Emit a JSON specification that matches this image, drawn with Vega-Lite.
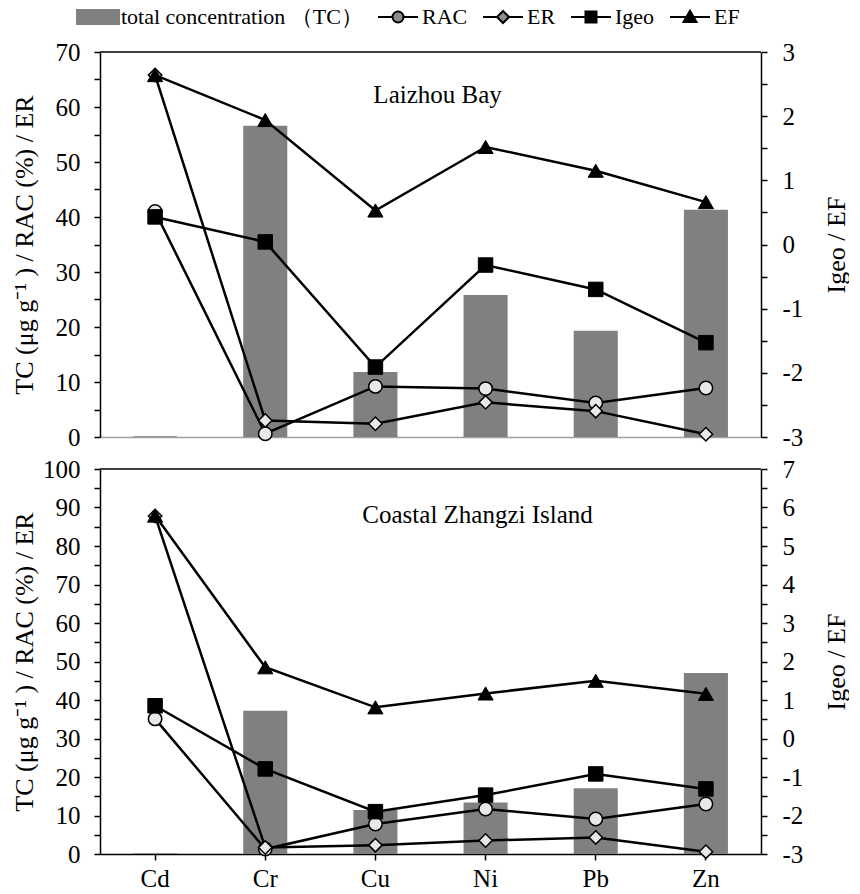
{
  "$schema": "https://vega.github.io/schema/vega-lite/v6.json",
  "padding": {"left": 11, "top": 6, "right": 0, "bottom": 0},
  "background": "white",
  "config": {
    "font": "Liberation Serif",
    "view": {"stroke": null},
    "axis": {"labelFont": "Liberation Serif", "labelFontSize": 25, "labelColor": "black", "titleFont": "Liberation Serif", "titleFontSize": 26, "titleFontWeight": "normal", "titleColor": "black", "domainColor": "black", "domainWidth": 1.5, "tickColor": "black", "tickWidth": 1.5, "grid": false, "labelOverlap": false, "labelBound": false, "labelFlush": false},
    "text": {"font": "Liberation Serif"}
  },
  "datasets": {
    "top": [
      {"m": "Cd", "s": "TC", "v": 0.15}, {"m": "Cr", "s": "TC", "v": 56.6}, {"m": "Cu", "s": "TC", "v": 11.8}, {"m": "Ni", "s": "TC", "v": 25.8}, {"m": "Pb", "s": "TC", "v": 19.3}, {"m": "Zn", "s": "TC", "v": 41.3},
      {"m": "Cd", "s": "RAC", "v": 41.0}, {"m": "Cr", "s": "RAC", "v": 0.6}, {"m": "Cu", "s": "RAC", "v": 9.2}, {"m": "Ni", "s": "RAC", "v": 8.8}, {"m": "Pb", "s": "RAC", "v": 6.2}, {"m": "Zn", "s": "RAC", "v": 8.9},
      {"m": "Cd", "s": "ER", "v": 65.8}, {"m": "Cr", "s": "ER", "v": 3.0}, {"m": "Cu", "s": "ER", "v": 2.4}, {"m": "Ni", "s": "ER", "v": 6.3}, {"m": "Pb", "s": "ER", "v": 4.7}, {"m": "Zn", "s": "ER", "v": 0.5},
      {"m": "Cd", "s": "Igeo", "v": 0.43}, {"m": "Cr", "s": "Igeo", "v": 0.04}, {"m": "Cu", "s": "Igeo", "v": -1.91}, {"m": "Ni", "s": "Igeo", "v": -0.32}, {"m": "Pb", "s": "Igeo", "v": -0.70}, {"m": "Zn", "s": "Igeo", "v": -1.53},
      {"m": "Cd", "s": "EF", "v": 2.64}, {"m": "Cr", "s": "EF", "v": 1.94}, {"m": "Cu", "s": "EF", "v": 0.53}, {"m": "Ni", "s": "EF", "v": 1.52}, {"m": "Pb", "s": "EF", "v": 1.15}, {"m": "Zn", "s": "EF", "v": 0.66}
    ],
    "bot": [
      {"m": "Cd", "s": "TC", "v": 0.2}, {"m": "Cr", "s": "TC", "v": 37.2}, {"m": "Cu", "s": "TC", "v": 11.4}, {"m": "Ni", "s": "TC", "v": 13.4}, {"m": "Pb", "s": "TC", "v": 17.1}, {"m": "Zn", "s": "TC", "v": 47.0},
      {"m": "Cd", "s": "RAC", "v": 35.1}, {"m": "Cr", "s": "RAC", "v": 1.3}, {"m": "Cu", "s": "RAC", "v": 7.8}, {"m": "Ni", "s": "RAC", "v": 11.7}, {"m": "Pb", "s": "RAC", "v": 9.1}, {"m": "Zn", "s": "RAC", "v": 13.0},
      {"m": "Cd", "s": "ER", "v": 87.8}, {"m": "Cr", "s": "ER", "v": 1.7}, {"m": "Cu", "s": "ER", "v": 2.3}, {"m": "Ni", "s": "ER", "v": 3.5}, {"m": "Pb", "s": "ER", "v": 4.3}, {"m": "Zn", "s": "ER", "v": 0.6},
      {"m": "Cd", "s": "Igeo", "v": 0.85}, {"m": "Cr", "s": "Igeo", "v": -0.79}, {"m": "Cu", "s": "Igeo", "v": -1.90}, {"m": "Ni", "s": "Igeo", "v": -1.47}, {"m": "Pb", "s": "Igeo", "v": -0.92}, {"m": "Zn", "s": "Igeo", "v": -1.31},
      {"m": "Cd", "s": "EF", "v": 5.79}, {"m": "Cr", "s": "EF", "v": 1.85}, {"m": "Cu", "s": "EF", "v": 0.81}, {"m": "Ni", "s": "EF", "v": 1.17}, {"m": "Pb", "s": "EF", "v": 1.50}, {"m": "Zn", "s": "EF", "v": 1.16}
    ]
  },
  "spacing": 7,
  "vconcat": [
    {
      "width": 661, "height": 385,
      "data": {"name": "top"},
      "layer": [
        {
          "layer": [
            {"mark": {"type": "bar", "fill": "#808080", "width": {"band": 0.4}},
             "transform": [{"filter": "datum.s === 'TC'"}],
             "encoding": {
               "x": {"field": "m", "type": "nominal", "sort": null, "scale": {"domain": ["Cd","Cr","Cu","Ni","Pb","Zn"], "paddingInner": 0, "paddingOuter": 0}, "axis": {"labels": false, "ticks": false, "domainColor": "#a0a0a0", "title": null}},
               "y": {"field": "v", "type": "quantitative", "scale": {"domain": [0, 70], "nice": false, "zero": true}, "axis": {"orient": "left", "values": [0,5,10,15,20,25,30,35,40,45,50,55,60,65,70], "tickCount": 40, "labelExpr": "datum.value % 10 === 0 ? '' + datum.value : ''", "labelOverlap": false, "tickSize": 6, "labelPadding": 14, "minExtent": 56, "maxExtent": 56, "titlePadding": 7, "title": "TC (μg g⁻¹ ) / RAC (%) / ER"}}
             }},
            {"mark": {"type": "line", "stroke": "black", "strokeWidth": 2.5},
             "transform": [{"filter": "datum.s === 'RAC' || datum.s === 'ER'"}],
             "encoding": {
               "x": {"field": "m", "type": "nominal", "sort": null},
               "y": {"field": "v", "type": "quantitative"},
               "detail": {"field": "s"}
             }},
            {"mark": {"type": "point", "shape": "circle", "filled": true, "fill": "#e8e8e8", "stroke": "black", "strokeWidth": 1.5, "size": 180, "opacity": 1},
             "transform": [{"filter": "datum.s === 'RAC'"}],
             "encoding": {
               "x": {"field": "m", "type": "nominal", "sort": null},
               "y": {"field": "v", "type": "quantitative"}
             }},
            {"mark": {"type": "point", "shape": "diamond", "filled": true, "fill": "#e8e8e8", "stroke": "black", "strokeWidth": 1.5, "size": 180, "opacity": 1},
             "transform": [{"filter": "datum.s === 'ER'"}],
             "encoding": {
               "x": {"field": "m", "type": "nominal", "sort": null},
               "y": {"field": "v", "type": "quantitative"}
             }},
            {"data": {"values": [{}]}, "mark": {"type": "rule", "stroke": "black", "strokeWidth": 1.5},
             "encoding": {"y": {"datum": 70, "type": "quantitative", "axis": {"orient": "left", "values": [0,5,10,15,20,25,30,35,40,45,50,55,60,65,70], "tickCount": 40, "labelExpr": "datum.value % 10 === 0 ? '' + datum.value : ''", "labelOverlap": false, "tickSize": 6, "labelPadding": 14, "minExtent": 56, "maxExtent": 56, "titlePadding": 7, "title": "TC (μg g⁻¹ ) / RAC (%) / ER"}}}},
            {"data": {"values": [{"t": "Laizhou Bay"}]}, "mark": {"type": "text", "fontSize": 25, "align": "center", "baseline": "alphabetic", "dx": -48, "color": "black"},
             "encoding": {"x": {"datum": "Ni", "axis": {"labels": false, "ticks": false, "domainColor": "#a0a0a0", "title": null}}, "y": {"datum": 60.7, "type": "quantitative", "axis": {"orient": "left", "values": [0,5,10,15,20,25,30,35,40,45,50,55,60,65,70], "tickCount": 40, "labelExpr": "datum.value % 10 === 0 ? '' + datum.value : ''", "labelOverlap": false, "tickSize": 6, "labelPadding": 14, "minExtent": 56, "maxExtent": 56, "titlePadding": 7, "title": "TC (μg g⁻¹ ) / RAC (%) / ER"}}, "text": {"field": "t"}}}
          ]
        },
        {
          "layer": [
            {"mark": {"type": "line", "stroke": "black", "strokeWidth": 2.5},
             "transform": [{"filter": "datum.s === 'Igeo' || datum.s === 'EF'"}],
             "encoding": {
               "x": {"field": "m", "type": "nominal", "sort": null},
               "y": {"field": "v", "type": "quantitative", "scale": {"domain": [-3, 3], "nice": false, "zero": false}, "axis": {"orient": "right", "values": [-3,-2.5,-2,-1.5,-1,-0.5,0,0.5,1,1.5,2,2.5,3], "tickCount": 40, "labelExpr": "datum.value % 1 === 0 ? '' + datum.value : ''", "labelOverlap": false, "tickSize": 6, "labelPadding": 15, "minExtent": 43, "maxExtent": 43, "titlePadding": 19, "titleAngle": 270, "titleBaseline": "top", "title": "Igeo / EF"}},
               "detail": {"field": "s"}
             }},
            {"mark": {"type": "point", "shape": "square", "filled": true, "fill": "black", "stroke": "black", "strokeWidth": 1, "size": 210, "opacity": 1},
             "transform": [{"filter": "datum.s === 'Igeo'"}],
             "encoding": {
               "x": {"field": "m", "type": "nominal", "sort": null},
               "y": {"field": "v", "type": "quantitative"}
             }},
            {"mark": {"type": "point", "shape": "triangle-up", "filled": true, "fill": "black", "stroke": "black", "strokeWidth": 1, "size": 230, "opacity": 1},
             "transform": [{"filter": "datum.s === 'EF'"}],
             "encoding": {
               "x": {"field": "m", "type": "nominal", "sort": null},
               "y": {"field": "v", "type": "quantitative"}
             }},
            {"mark": {"type": "point", "filled": true, "opacity": 0, "strokeWidth": 2, "size": 10, "clip": true},
             "transform": [{"filter": "datum.m === 'Cd' && (datum.s === 'Igeo' || datum.s === 'EF')"}],
             "encoding": {
               "x": {"field": "m", "type": "nominal", "sort": null},
               "y": {"field": "v", "type": "quantitative"},
               "shape": {"field": "s", "type": "nominal",
                 "scale": {"domain": ["TC","RAC","ER","Igeo","EF"], "range": ["M-1,-0.7H3.2V0.7H-1Z", "M-1,0H0.45M1.55,0H3M1.55,0A0.55,0.55,0,1,1,0.45,0A0.55,0.55,0,1,1,1.55,0", "M-1,0H0.4M1.6,0H3M1,-0.6L1.6,0L1,0.6L0.4,0Z", "M-1,0H3M0.45,-0.55H1.55V0.55H0.45Z", "M-1,0H3M1,-0.62L1.65,0.5H0.35Z"]},
                 "legend": {"title": null, "orient": "none", "legendX": -24, "legendY": -46, "direction": "horizontal", "symbolSize": 400, "symbolOpacity": 1, "symbolStrokeWidth": 2, "labelFont": "Liberation Serif", "labelFontSize": 22, "labelColor": "black", "labelOffset": 23, "columnPadding": 11, "labelLimit": 400, "labelExpr": "datum.value === 'TC' ? 'total concentration （TC）' : datum.label"}},
               "fill": {"field": "s", "type": "nominal",
                 "scale": {"domain": ["TC","RAC","ER","Igeo","EF"], "range": ["#808080", "#8c8c8c", "#8c8c8c", "black", "black"]},
                 "legend": {"title": null, "orient": "none", "legendX": -24, "legendY": -46, "direction": "horizontal", "symbolSize": 400, "symbolOpacity": 1, "symbolStrokeWidth": 2, "labelFont": "Liberation Serif", "labelFontSize": 22, "labelColor": "black", "labelOffset": 23, "columnPadding": 11, "labelLimit": 400, "labelExpr": "datum.value === 'TC' ? 'total concentration （TC）' : datum.label"}},
               "stroke": {"field": "s", "type": "nominal",
                 "scale": {"domain": ["TC","RAC","ER","Igeo","EF"], "range": ["#808080", "black", "black", "black", "black"]},
                 "legend": {"title": null, "orient": "none", "legendX": -24, "legendY": -46, "direction": "horizontal", "symbolSize": 400, "symbolOpacity": 1, "symbolStrokeWidth": 2, "labelFont": "Liberation Serif", "labelFontSize": 22, "labelColor": "black", "labelOffset": 23, "columnPadding": 11, "labelLimit": 400, "labelExpr": "datum.value === 'TC' ? 'total concentration （TC）' : datum.label"}}
             }}
          ]
        }
      ],
      "resolve": {"scale": {"y": "independent"}}
    },
    {
      "width": 661, "height": 385,
      "data": {"name": "bot"},
      "layer": [
        {
          "layer": [
            {"mark": {"type": "bar", "fill": "#808080", "width": {"band": 0.4}},
             "transform": [{"filter": "datum.s === 'TC'"}],
             "encoding": {
               "x": {"field": "m", "type": "nominal", "sort": null, "scale": {"domain": ["Cd","Cr","Cu","Ni","Pb","Zn"], "paddingInner": 0, "paddingOuter": 0}, "axis": {"labelAngle": 0, "labelPadding": 6, "tickSize": 6, "title": null}},
               "y": {"field": "v", "type": "quantitative", "scale": {"domain": [0, 100], "nice": false, "zero": true}, "axis": {"orient": "left", "values": [0,5,10,15,20,25,30,35,40,45,50,55,60,65,70,75,80,85,90,95,100], "tickCount": 40, "labelExpr": "datum.value % 10 === 0 ? '' + datum.value : ''", "labelOverlap": false, "tickSize": 6, "labelPadding": 14, "minExtent": 56, "maxExtent": 56, "titlePadding": 7, "title": "TC (μg g⁻¹ ) / RAC (%) / ER"}}
             }},
            {"mark": {"type": "line", "stroke": "black", "strokeWidth": 2.5},
             "transform": [{"filter": "datum.s === 'RAC' || datum.s === 'ER'"}],
             "encoding": {
               "x": {"field": "m", "type": "nominal", "sort": null},
               "y": {"field": "v", "type": "quantitative"},
               "detail": {"field": "s"}
             }},
            {"mark": {"type": "point", "shape": "circle", "filled": true, "fill": "#e8e8e8", "stroke": "black", "strokeWidth": 1.5, "size": 180, "opacity": 1},
             "transform": [{"filter": "datum.s === 'RAC'"}],
             "encoding": {
               "x": {"field": "m", "type": "nominal", "sort": null},
               "y": {"field": "v", "type": "quantitative"}
             }},
            {"mark": {"type": "point", "shape": "diamond", "filled": true, "fill": "#e8e8e8", "stroke": "black", "strokeWidth": 1.5, "size": 180, "opacity": 1},
             "transform": [{"filter": "datum.s === 'ER'"}],
             "encoding": {
               "x": {"field": "m", "type": "nominal", "sort": null},
               "y": {"field": "v", "type": "quantitative"}
             }},
            {"data": {"values": [{}]}, "mark": {"type": "rule", "stroke": "black", "strokeWidth": 1.5},
             "encoding": {"y": {"datum": 100, "type": "quantitative", "axis": {"orient": "left", "values": [0,5,10,15,20,25,30,35,40,45,50,55,60,65,70,75,80,85,90,95,100], "tickCount": 40, "labelExpr": "datum.value % 10 === 0 ? '' + datum.value : ''", "labelOverlap": false, "tickSize": 6, "labelPadding": 14, "minExtent": 56, "maxExtent": 56, "titlePadding": 7, "title": "TC (μg g⁻¹ ) / RAC (%) / ER"}}}},
            {"data": {"values": [{"t": "Coastal Zhangzi Island"}]}, "mark": {"type": "text", "fontSize": 25, "align": "center", "baseline": "alphabetic", "dx": -8, "color": "black"},
             "encoding": {"x": {"datum": "Ni", "axis": {"labelAngle": 0, "labelPadding": 6, "tickSize": 6, "title": null}}, "y": {"datum": 86, "type": "quantitative", "axis": {"orient": "left", "values": [0,5,10,15,20,25,30,35,40,45,50,55,60,65,70,75,80,85,90,95,100], "tickCount": 40, "labelExpr": "datum.value % 10 === 0 ? '' + datum.value : ''", "labelOverlap": false, "tickSize": 6, "labelPadding": 14, "minExtent": 56, "maxExtent": 56, "titlePadding": 7, "title": "TC (μg g⁻¹ ) / RAC (%) / ER"}}, "text": {"field": "t"}}}
          ]
        },
        {
          "layer": [
            {"mark": {"type": "line", "stroke": "black", "strokeWidth": 2.5},
             "transform": [{"filter": "datum.s === 'Igeo' || datum.s === 'EF'"}],
             "encoding": {
               "x": {"field": "m", "type": "nominal", "sort": null},
               "y": {"field": "v", "type": "quantitative", "scale": {"domain": [-3, 7], "nice": false, "zero": false}, "axis": {"orient": "right", "values": [-3,-2.5,-2,-1.5,-1,-0.5,0,0.5,1,1.5,2,2.5,3,3.5,4,4.5,5,5.5,6,6.5,7], "tickCount": 40, "labelExpr": "datum.value % 1 === 0 ? '' + datum.value : ''", "labelOverlap": false, "tickSize": 6, "labelPadding": 15, "minExtent": 43, "maxExtent": 43, "titlePadding": 19, "titleAngle": 270, "titleBaseline": "top", "title": "Igeo / EF"}},
               "detail": {"field": "s"}
             }},
            {"mark": {"type": "point", "shape": "square", "filled": true, "fill": "black", "stroke": "black", "strokeWidth": 1, "size": 210, "opacity": 1},
             "transform": [{"filter": "datum.s === 'Igeo'"}],
             "encoding": {
               "x": {"field": "m", "type": "nominal", "sort": null},
               "y": {"field": "v", "type": "quantitative"}
             }},
            {"mark": {"type": "point", "shape": "triangle-up", "filled": true, "fill": "black", "stroke": "black", "strokeWidth": 1, "size": 230, "opacity": 1},
             "transform": [{"filter": "datum.s === 'EF'"}],
             "encoding": {
               "x": {"field": "m", "type": "nominal", "sort": null},
               "y": {"field": "v", "type": "quantitative"}
             }}
          ]
        }
      ],
      "resolve": {"scale": {"y": "independent"}}
    }
  ]
}
